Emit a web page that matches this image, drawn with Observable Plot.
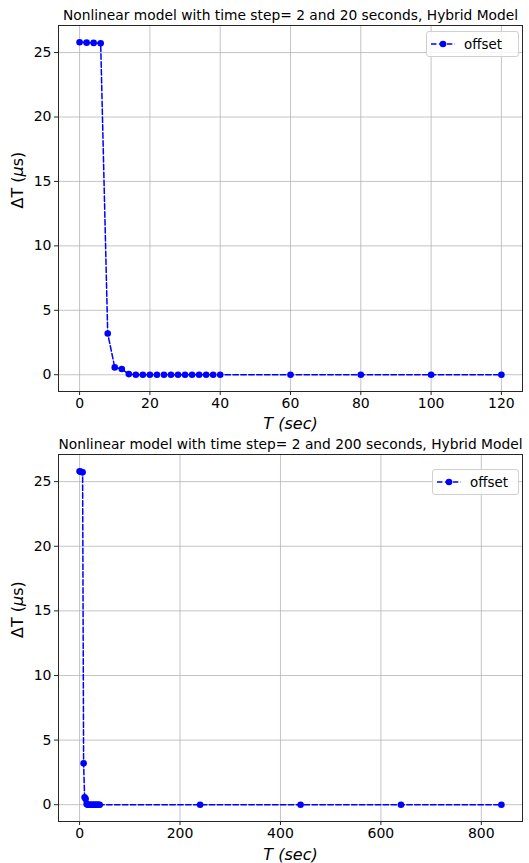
<!DOCTYPE html>
<html>
<head>
<meta charset="utf-8">
<script src="https://cdn.jsdelivr.net/npm/d3@7"></script>
<script src="https://cdn.jsdelivr.net/npm/@observablehq/plot@0.6"></script>
<style>
  html, body { margin: 0; padding: 0; background: #fff; }
  #wrap { position: relative; width: 529px; height: 863px; font-family: "DejaVu Sans", sans-serif; }
  #wrap svg { display: block; }
  .legend { position: absolute; box-sizing: border-box; height: 26px; border: 1px solid #d0d0d0; border-radius: 3px; background: rgba(255,255,255,0.85); display: flex; align-items: center; font: 13.4px "DejaVu Sans", sans-serif; color: #000; }
  .legend svg { margin-left: 3px; margin-right: 8px; }
</style>
</head>
<body>
<div id="wrap"></div>
<script>
// ---- data ----
const timesTop = [0,2,4,6,8,10,12,14,16,18,20,22,24,26,28,30,32,34,36,38,40,60,80,100,120];
const offsetTop = [25.8,25.77,25.75,25.72,3.2,0.57,0.45,0.05,0,0,0,0,0,0,0,0,0,0,0,0,0,0,0,0,0];
const timesBottom = [0,2,4,6,8,10,12,14,16,18,20,22,24,26,28,30,32,34,36,38,40,240,440,640,840];
const offsetBottom = [25.8,25.77,25.75,25.72,3.2,0.57,0.45,0.05,0,0,0,0,0,0,0,0,0,0,0,0,0,0,0,0,0];
const yTicks = [0,5,10,15,20,25];
const xTicksTop = [0,20,40,60,80,100,120];
const xTicksBottom = [0,200,400,600,800];
const titles = [
  "Nonlinear model with time step= 2 and 20 seconds, Hybrid Model",
  "Nonlinear model with time step= 2 and 200 seconds, Hybrid Model"
];
const xLabel = "T (sec)";
const yLabel = "ΔT (μs)";
const seriesName = "offset";

const wrap = document.getElementById("wrap");

function panel(times, values, xDomain, xTicks, title, height, mTop, mBottom, titleDy, xLabDy) {
  const data = times.map((t, i) => ({t, v: values[i]}));
  const svg = Plot.plot({
    width: 529,
    height,
    marginLeft: 58,
    marginRight: 7,
    marginTop: mTop,
    marginBottom: mBottom,
    style: {fontFamily: "DejaVu Sans, sans-serif", fontSize: "14px", color: "#000", background: "#fff", overflow: "visible"},
    x: {domain: xDomain, ticks: xTicks, label: null},
    y: {domain: [-1.3, 27.1], ticks: yTicks, label: null},
    marks: [
      Plot.gridX(xTicks, {stroke: "#b0b0b0", strokeOpacity: 0.75, strokeWidth: 1}),
      Plot.gridY(yTicks, {stroke: "#b0b0b0", strokeOpacity: 0.75, strokeWidth: 1}),
      Plot.line(data, {x: "t", y: "v", stroke: "#0000ff", strokeWidth: 1.5, strokeDasharray: "5.5,2.4"}),
      Plot.dot(data, {x: "t", y: "v", r: 3.3, fill: "#0000ff", stroke: "none"}),
      Plot.frame({stroke: "#262626", strokeWidth: 1}),
      Plot.axisX(xTicks, {tickSize: 4, tickPadding: 3, fontSize: 14, stroke: "#262626"}),
      Plot.axisY(yTicks, {tickSize: 4, tickPadding: 3, fontSize: 14, stroke: "#262626"}),
      Plot.text([title], {text: d => d, frameAnchor: "top", lineAnchor: "middle", dy: titleDy, fontSize: 13.8, fill: "#000"}),
      Plot.text([xLabel], {text: d => d, frameAnchor: "bottom", lineAnchor: "middle", dy: xLabDy, fontSize: 16, fontStyle: "italic", fill: "#000"}),
      Plot.text([yLabel], {text: d => d, frameAnchor: "left", lineAnchor: "middle", dx: -41, rotate: -90, fontSize: 16, fill: "#000"})
    ]
  });
  // tick labels at matplotlib size
  svg.querySelectorAll('g[aria-label="x-axis tick label"], g[aria-label="y-axis tick label"]').forEach(g => {
    g.setAttribute("font-size", "14");
    g.style.fontSize = "14px";
    g.querySelectorAll("text").forEach(t => { t.setAttribute("font-size", "14"); t.style.fontSize = "14px"; });
  });
  // italic mu in the y label, like mathtext
  svg.querySelectorAll("text").forEach(t => {
    if (t.textContent === yLabel) {
      t.textContent = "";
      const parts = [["ΔT (", "normal"], ["μ", "italic"], ["s)", "normal"]];
      for (const [s, st] of parts) {
        const ts = document.createElementNS("http://www.w3.org/2000/svg", "tspan");
        ts.textContent = s;
        ts.setAttribute("font-style", st);
        t.appendChild(ts);
      }
    }
  });
  return svg;
}

wrap.appendChild(panel(timesTop, offsetTop, [-6, 126], xTicksTop, titles[0], 432, 25, 41, -10, 32));
wrap.appendChild(panel(timesBottom, offsetBottom, [-42, 882], xTicksBottom, titles[1], 431, 22, 42, -10, 33));

function legend(left, top, width) {
  const d = document.createElement("div");
  d.className = "legend";
  d.style.left = left + "px";
  d.style.top = top + "px";
  d.style.width = width + "px";
  d.innerHTML = `<svg width="26" height="10"><line x1="1" y1="5" x2="25" y2="5" stroke="#0000ff" stroke-width="1.5" stroke-dasharray="5.5,2.4"/><circle cx="13" cy="5" r="3.3" fill="#0000ff"/></svg><span>${seriesName}</span>`;
  wrap.appendChild(d);
}
legend(426, 31, 93);
legend(432, 469, 87);
</script>
</body>
</html>
